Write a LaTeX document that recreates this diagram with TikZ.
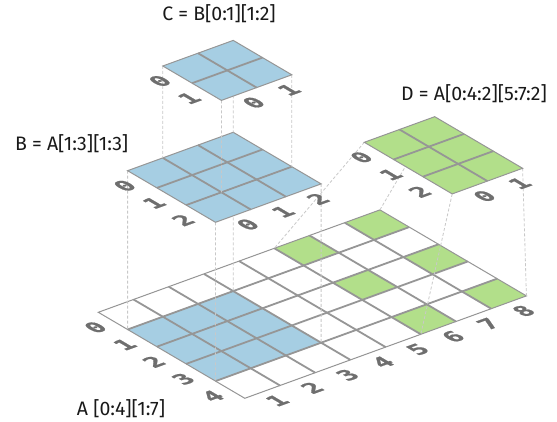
\documentclass[tikz,border=0pt]{standalone}
\usepackage{fontspec}
\setmainfont{Fira Sans}
\newfontfamily\idxfont[FakeBold=1]{DejaVu Sans Mono Bold}

\definecolor{sliceblue}{HTML}{A6CEE3}
\definecolor{slicegreen}{HTML}{B2DF8A}
\definecolor{gridgray}{HTML}{969696}
\definecolor{idxgray}{HTML}{6E6E6E}
\definecolor{dropgray}{HTML}{C8C8C8}

\pgfdeclarelayer{floor}
\pgfdeclarelayer{floordrop}
\pgfdeclarelayer{middle}
\pgfdeclarelayer{middledrop}
\pgfsetlayers{floor,floordrop,middle,middledrop,main}

\begin{document}
\begin{tikzpicture}[
  plane/.style={cm={1.2372,0.4499,-1.0298,0.6045,(#1)}},
  cellline/.style={draw=gridgray,line width=1.8pt},
  rim/.style={draw=gridgray,line width=1pt},
  dropline/.style={draw=dropgray,line width=.8pt,dash pattern=on 3pt off 2pt},
  idx/.style={transform shape,inner sep=0pt,text=idxgray,font=\idxfont\fontsize{18.5}{18.5}\selectfont},
  title/.style={inner sep=0pt,text=black!90,font=\fontsize{19.5}{22}\selectfont}
]
  \useasboundingbox (0,0) rectangle (557pt,422pt);

  % A, the whole array
  \begin{pgfonlayer}{floor}
  \begin{scope}[plane={98.3pt,109.7pt}]
    \fill[white] (0,0) rectangle (8,-5);
    \foreach \r in {1,2,3} \foreach \c in {0,1,2}
      \fill[sliceblue] (\c,-\r) rectangle ++(1,-1);
    \foreach \r in {0,2,4} \foreach \c in {5,7}
      \fill[slicegreen] (\c,-\r) rectangle ++(1,-1);
    \foreach \c in {1,...,7} \draw[cellline] (\c,0) -- (\c,-5);
    \foreach \r in {1,...,4} \draw[cellline] (0,-\r) -- (8,-\r);
    \draw[rim] (0,0) rectangle (8,-5);
    \foreach \r in {0,...,4} \node[idx] (a-row\r) at (-.5,-\r-.5) {\r};
    \foreach \c in {1,...,8} \node[idx] (a-col\c) at (\c-.5,-5.5) {\c};
    \coordinate (a-bwest) at (0,-1);
    \coordinate (a-bsouth) at (0,-4);
    \coordinate (a-beast) at (3,-4);
    \coordinate (a-bnorth) at (3,-1);
    \coordinate (a-dwest) at (5,0);
    \coordinate (a-dsouth) at (5,-5);
    \coordinate (a-deast) at (8,-5);
    \coordinate (a-dnorth) at (8,0);
  \end{scope}
  \end{pgfonlayer}

  % B = A[1:3][1:3]
  \begin{pgfonlayer}{middle}
  \begin{scope}[plane={127.6pt,251.3pt}]
    \fill[sliceblue] (0,0) rectangle (3,-3);
    \foreach \k in {1,2} {
      \draw[cellline] (\k,0) -- (\k,-3);
      \draw[cellline] (0,-\k) -- (3,-\k);
    }
    \draw[rim] (0,0) rectangle (3,-3);
    \foreach \k in {0,1,2} {
      \node[idx] (b-row\k) at (-.5,-\k-.5) {\k};
      \node[idx] (b-col\k) at (\k+.5,-3.5) {\k};
    }
    \coordinate (b-west) at (0,0);
    \coordinate (b-south) at (0,-3);
    \coordinate (b-east) at (3,-3);
    \coordinate (b-north) at (3,0);
    \coordinate (b-cwest) at (1,0);
    \coordinate (b-csouth) at (1,-2);
    \coordinate (b-ceast) at (3,-2);
    \coordinate (b-cnorth) at (3,0);
  \end{scope}
  \end{pgfonlayer}

  % C = B[0:1][1:2]
  \begin{scope}[plane={162.8pt,356pt}]
    \fill[sliceblue] (0,0) rectangle (2,-2);
    \draw[cellline] (1,0) -- (1,-2);
    \draw[cellline] (0,-1) -- (2,-1);
    \draw[rim] (0,0) rectangle (2,-2);
    \foreach \k in {0,1} {
      \node[idx] (c-row\k) at (-.5,-\k-.5) {\k};
      \node[idx] (c-col\k) at (\k+.5,-2.5) {\k};
    }
    \coordinate (c-west) at (0,0);
    \coordinate (c-south) at (0,-2);
    \coordinate (c-east) at (2,-2);
    \coordinate (c-north) at (2,0);
  \end{scope}

  % D = A[0:4:2][5:7:2]
  \begin{scope}[plane={364.3pt,279.7pt}]
    \fill[slicegreen] (0,0) rectangle (2,-3);
    \draw[cellline] (1,0) -- (1,-3);
    \foreach \r in {1,2} \draw[cellline] (0,-\r) -- (2,-\r);
    \draw[rim] (0,0) rectangle (2,-3);
    \foreach \r in {0,1,2} \node[idx] (d-row\r) at (-.5,-\r-.5) {\r};
    \foreach \c in {0,1} \node[idx] (d-col\c) at (\c+.5,-3.5) {\c};
    \coordinate (d-west) at (0,0);
    \coordinate (d-south) at (0,-3);
    \coordinate (d-east) at (2,-3);
    \coordinate (d-north) at (2,0);
  \end{scope}

  % projection lines
  \begin{pgfonlayer}{floordrop}
    \foreach \p in {west,south,east,north} {
      \draw[dropline] (b-\p) -- (a-b\p);
      \draw[dropline] (d-\p) -- (a-d\p);
    }
  \end{pgfonlayer}
  \begin{pgfonlayer}{middledrop}
    \foreach \p in {west,south,east,north}
      \draw[dropline] (c-\p) -- (b-c\p);
  \end{pgfonlayer}

  \node[title] (c-title) at (219pt,408.3pt) {C = B[0:1][1:2]};
  \node[title] (b-title) at (71.7pt,278.7pt) {B = A[1:3][1:3]};
  \node[title] (d-title) at (474pt,328.5pt) {D = A[0:4:2][5:7:2]};
  \node[title] (a-title) at (121pt,13pt) {A [0:4][1:7]};
\end{tikzpicture}
\end{document}
